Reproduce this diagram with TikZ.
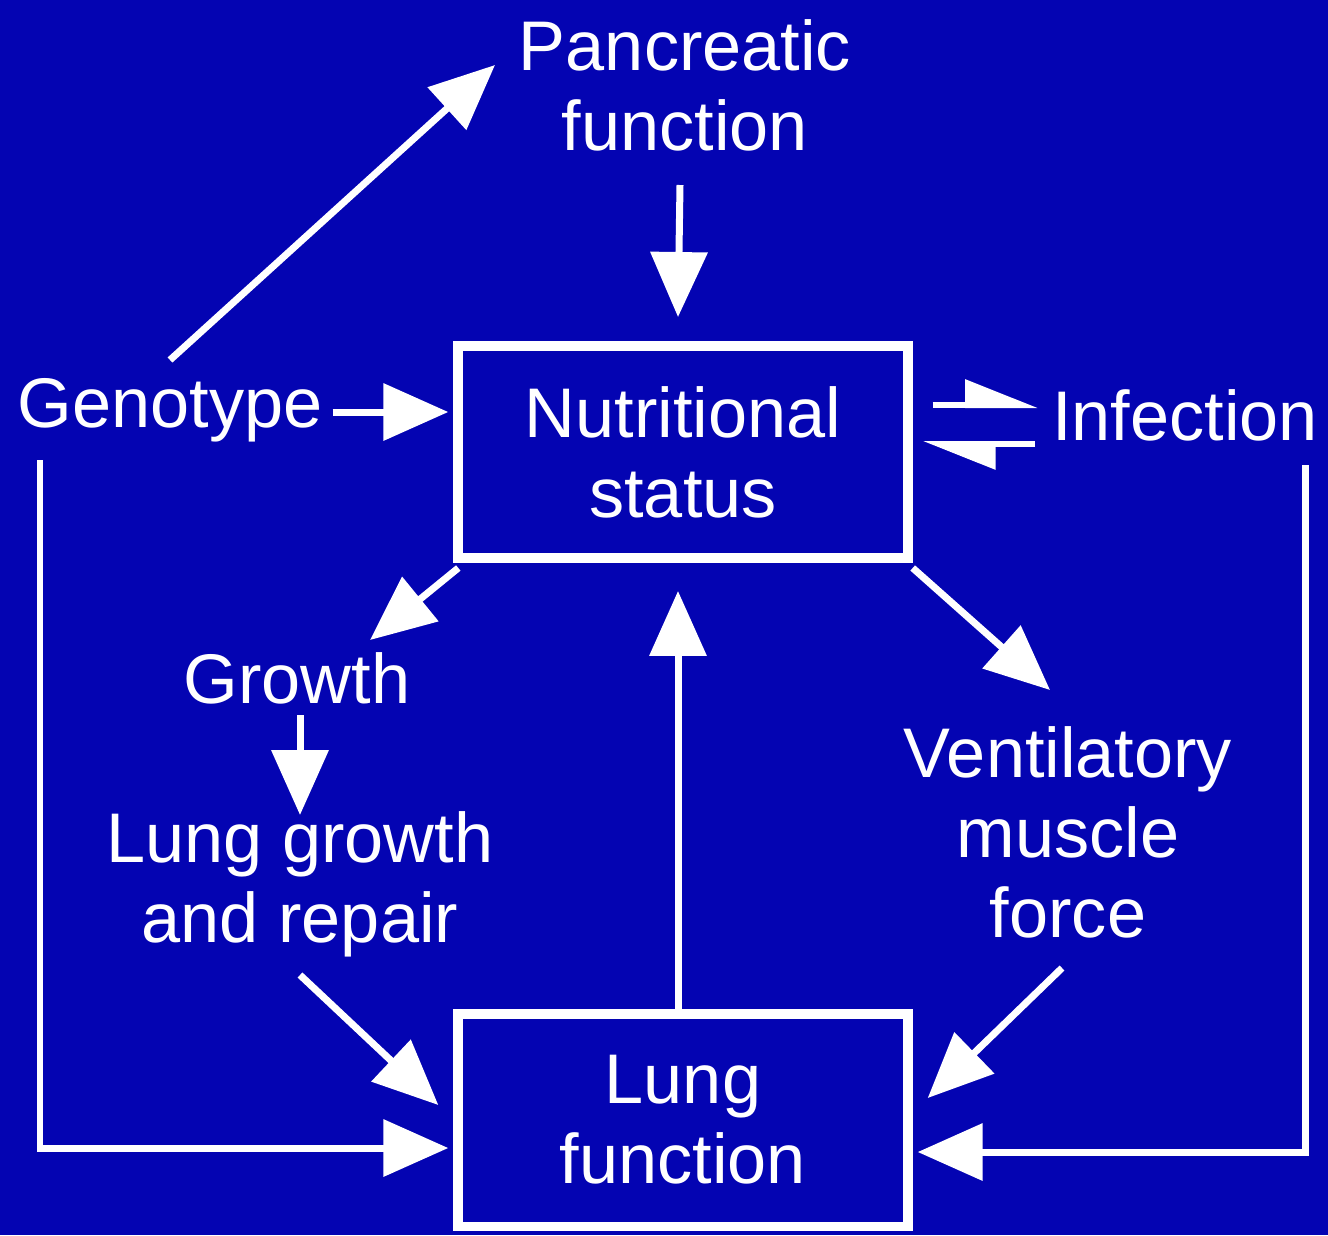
\documentclass[tikz,border=0pt]{standalone}
\usepackage{fontspec}
\setmainfont{Liberation Sans}
\usetikzlibrary{arrows.meta,calc}
\definecolor{bgblue}{RGB}{4,4,178}
\begin{document}
\begin{tikzpicture}[x=0.02cm,y=-0.02cm,
  lbl/.style={text=white,font=\fontsize{40}{45.5}\selectfont,align=center,inner sep=0pt},
  boxnode/.style={draw=white,line width=0.19cm,minimum width=9.0cm,minimum height=4.25cm,text=white,font=\fontsize{40}{45.5}\selectfont,align=center},
  arr/.style={draw=white,line width=0.14cm,-{Triangle[length=1.3cm,width=1.12cm]}},
  harp/.style={draw=white,line width=0.12cm,-{Triangle[harpoon,length=1.3cm,width=1.0cm]}},
  plainline/.style={draw=white,line width=0.14cm}]
\fill[bgblue] (0,0) rectangle (1328,1235);
\useasboundingbox (0,0) rectangle (1328,1235);

\node[lbl] (panc) at (685,85) {Pancreatic\\function};
\node[boxnode] (nut) at (683,452) {Nutritional\\status};
\node[boxnode] (lung) at (683,1120) {Lung\\function};
\node[lbl] (geno) at (170,410) {Genotype};
\node[lbl] (infe) at (1185,415) {Infection};
\node[lbl] (growth) at (297,678) {Growth};
\node[lbl] (lgr) at (300,884) {Lung growth\\and repair};
\node[lbl] (vent) at (1068,832) {Ventilatory\\muscle\\force};

% arrows
\draw[arr] ($(geno.center)+(0,-50)$) -- ($(panc.center)+(-190,-20)$);
\draw[arr] ($(panc.center)+(-5,100)$) -- ($(nut.north)+(-5,-24)$);
\draw[arr] (geno.east) ++(10,2) -- ($(nut.west)+(-5,-40)$);
\draw[harp] ($(nut.east)+(20,-47)$) -- ($(infe.center)+(-147,-10)$);
\draw[harp] ($(infe.center)+(-150,29)$) -- ($(nut.east)+(10,-8)$);
\draw[arr] ($(nut.south west)+(5,5)$) -- ($(growth.center)+(73,-38)$);
\draw[arr] ($(nut.south east)+(0,5)$) -- ($(vent.center)+(-18,-142)$);
\draw[arr] ($(growth.center)+(3,37)$) -- ($(lgr.center)+(0,-69)$);
\draw[arr] ($(lgr.center)+(0,91)$) -- ($(lung.west)+(-15,-15)$);
\draw[arr] ($(vent.center)+(-6,136)$) -- ($(lung.east)+(15,-22)$);
\draw[arr] ($(lung.north)+(-5,0)$) -- ($(nut.south)+(-5,28)$);
\draw[arr] ($(geno.center)+(-130,50)$) |- ($(lung.west)+(-5,28)$);
\draw[arr] ($(infe.center)+(120,50)$) |- ($(lung.east)+(5,32)$);
\end{tikzpicture}
\end{document}
